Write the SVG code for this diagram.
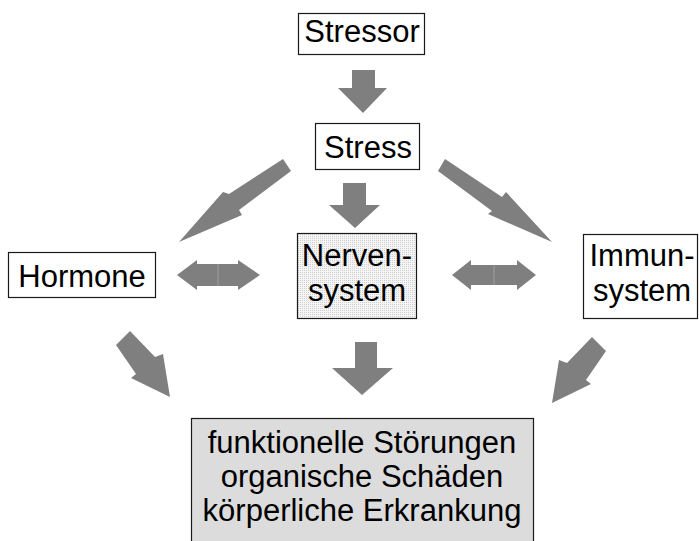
<svg xmlns="http://www.w3.org/2000/svg" width="699" height="541" viewBox="0 0 699 541">
  <defs>
    <pattern id="dots" width="2" height="2" patternUnits="userSpaceOnUse">
      <rect width="2" height="2" fill="#f5f5f5"/>
      <rect width="1" height="1" fill="#cfcfcf"/>
    </pattern>
  </defs>
  <style>
    .box { fill: #ffffff; stroke: #1a1a1a; stroke-width: 1.2; }
    .box.dotted { fill: url(#dots); }
    .box.grey { fill: #dcdcdc; }
    .lbl { font-family: "Liberation Sans", Arial, Helvetica, sans-serif; font-size: 31px; fill: #000000; text-anchor: middle; }
    .arrow { fill: #7f7f7f; stroke: none; }
    .split { stroke: #a0a0a0; stroke-width: 1; }
  </style>

  <rect width="699" height="541" fill="#ffffff"/>

  <!-- block arrows between the boxes -->
  <g id="connectors">
    <!-- Stressor to Stress -->
    <polygon class="arrow" points="352,70 375,70 375,88 387,88 363,113 338,88 352,88"/>
    <!-- Stress to Hormone -->
    <polygon class="arrow" points="283,159 229,194 223,192 179,242 242,215 239,210 291,171"/>
    <!-- Stress to Nervensystem -->
    <polygon class="arrow" points="343,183 366,183 366,205 380,205 355,228 329,205 343,205"/>
    <!-- Stress to Immunsystem -->
    <polygon class="arrow" points="445,159 502,197 506,192 552,242 488,214 492,211 438,171"/>
    <!-- Hormone <-> Nervensystem -->
    <polygon class="arrow" points="177,275 197,260 197,264 238,264 238,260 260,275 238,290 238,286 197,286 197,290"/>
    <line class="split" x1="218" y1="264" x2="218" y2="286"/>
    <!-- Nervensystem <-> Immunsystem -->
    <polygon class="arrow" points="452,275 471,260 471,265 517,265 517,260 536,275 517,290 517,285 471,285 471,290"/>
    <line class="split" x1="494" y1="265" x2="494" y2="285"/>
    <!-- Hormone to outcomes -->
    <polygon class="arrow" points="130,331 155,357 163,354 170,397 131,378 136,374 116,345"/>
    <!-- Nervensystem to outcomes -->
    <polygon class="arrow" points="355,342 377,342 377,368 393,368 362,395 332,368 355,368"/>
    <!-- Immunsystem to outcomes -->
    <polygon class="arrow" points="592,337 567,363 559,360 552,403 591,384 586,380 606,351"/>
  </g>

  <g id="stressor">
    <rect class="box" x="298.5" y="13.5" width="126" height="41"/>
    <text class="lbl" x="362" y="42">Stressor</text>
  </g>

  <g id="stress">
    <rect class="box" x="315.5" y="123.5" width="104" height="46"/>
    <text class="lbl" x="368" y="158">Stress</text>
  </g>

  <g id="hormone">
    <rect class="box" x="8.5" y="252.5" width="147" height="45"/>
    <text class="lbl" x="82" y="287">Hormone</text>
  </g>

  <g id="nervensystem">
    <rect class="box dotted" x="297.5" y="233.5" width="119" height="85"/>
    <text class="lbl" x="357" y="266">Nerven-</text>
    <text class="lbl" x="357" y="301">system</text>
  </g>

  <g id="immunsystem">
    <rect class="box" x="583.5" y="234.5" width="114" height="84"/>
    <text class="lbl" x="642" y="266">Immun-</text>
    <text class="lbl" x="642" y="301">system</text>
  </g>

  <g id="outcomes">
    <rect class="box grey" x="191.5" y="418.5" width="342" height="130"/>
    <text class="lbl" x="362" y="453">funktionelle Störungen</text>
    <text class="lbl" x="362" y="487">organische Schäden</text>
    <text class="lbl" x="362" y="521">körperliche Erkrankung</text>
  </g>
</svg>
